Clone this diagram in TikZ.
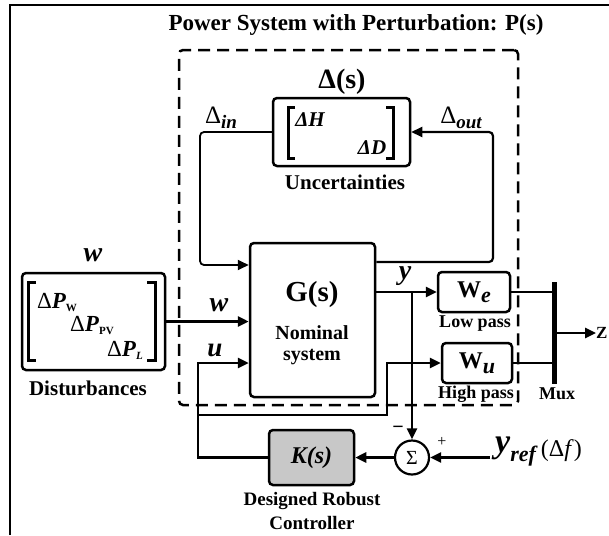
\documentclass[tikz,border=0pt]{standalone}
\usepackage{fontspec}
\setmainfont{Liberation Serif}
\usetikzlibrary{arrows.meta,calc}
\newcommand{\myfs}[1]{\fontsize{#1}{#1}\selectfont}
\definecolor{kgray}{RGB}{200,200,200}
\begin{document}
\begin{tikzpicture}[x=1pt,y=-1pt,
  box/.style={draw, line width=2.5pt, rounded corners=4pt, inner sep=0pt},
  conn/.style={line width=2.6pt},
  arr/.style={conn, -{Triangle[length=11pt,width=10pt]}},
  brk/.style={line width=3pt},
  txt/.style={inner sep=0pt},
  bl/.style={txt, font=\bfseries\myfs{19}},
]
\useasboundingbox (0,0) rectangle (609,535);
\draw[line width=2pt] (10,535) -- (10,5) -- (609,5);

% title and dashed plant box
\node[txt, font=\bfseries\myfs{23}] (title) at (356,25) {Power System with Perturbation: P(s)};
\node[draw, line width=2.5pt, dash pattern=on 12pt off 7pt, rounded corners=4pt,
      minimum width=339pt, minimum height=355pt, inner sep=0pt] (pbox) at (348.5,227.5) {};

% uncertainty block
\node[box, minimum width=137pt, minimum height=68pt] (delta) at (341.5,132) {};
\draw[brk] (295,107) -- (288,107) -- (288,158) -- (295,158);
\draw[brk] (386,107) -- (393,107) -- (393,158) -- (386,158);
\node[txt, font=\bfseries\itshape\myfs{21}] (dH) at (310,120) {ΔH};
\node[txt, font=\bfseries\itshape\myfs{21}] (dD) at (372,148) {ΔD};
\node[txt, font=\bfseries\myfs{28}] (dlab) at (342,82) {Δ(s)};
\node[bl, font=\bfseries\myfs{21}] (unc) at (345,182) {Uncertainties};
\node[txt] (din) at (221,118) {\myfs{25}Δ\raisebox{-5pt}{\bfseries\itshape\myfs{19}in}};
\node[txt] (dout) at (461,118) {\myfs{25}Δ\raisebox{-5pt}{\bfseries\itshape\myfs{19}out}};

% nominal system
\node[box, minimum width=125pt, minimum height=154pt] (G) at (312.5,320) {};
\node[txt, font=\bfseries\myfs{29}] (gs) at (312,295) {G(s)};
\node[bl, font=\bfseries\myfs{20}] (nom) at (312,333) {Nominal};
\node[bl, font=\bfseries\myfs{20}] (sys) at (312,357) {system};

% disturbances
\node[box, minimum width=143pt, minimum height=97pt] (dist) at (93.5,321.5) {};
\draw[brk] (36,282) -- (28,282) -- (28,360) -- (36,360);
\draw[brk] (147,282) -- (155,282) -- (155,360) -- (147,360);
\node[txt] (pw) at (57,302) {\myfs{23}Δ\textbf{\textit{P}}\raisebox{-3pt}{\bfseries\myfs{11}W}};
\node[txt] (ppv) at (92,325) {\myfs{23}Δ\textbf{\textit{P}}\raisebox{-3pt}{\bfseries\myfs{11}PV}};
\node[txt] (pl) at (125,350) {\myfs{23}Δ\textbf{\textit{P}}\raisebox{-3pt}{\bfseries\itshape\myfs{11}L}};
\node[txt, font=\bfseries\itshape\myfs{28}] (wtop) at (93,255) {w};
\node[bl, font=\bfseries\myfs{21}] (distlab) at (88,388) {Disturbances};

% weights
\node[box, minimum width=72pt, minimum height=40pt] (We) at (474,292) {\bfseries\myfs{24}W\raisebox{-5pt}{\itshape\myfs{22}e}};
\node[box, minimum width=70pt, minimum height=40pt] (Wu) at (477,363) {\bfseries\myfs{24}W\raisebox{-5pt}{\itshape\myfs{22}u}};
\node[bl, font=\bfseries\myfs{18}] (lp) at (475,324) {Low pass};
\node[bl, font=\bfseries\myfs{18}] (hp) at (476,394) {High pass};
\node[fill, minimum width=5pt, minimum height=102pt, inner sep=0pt] (mux) at (554,333) {};
\node[bl, font=\bfseries\myfs{18}] (muxlab) at (557,394) {Mux};
\node[txt, anchor=west, font=\bfseries\myfs{17}] (Z) at (596,333) {Z};

% controller loop
\node[box, fill=kgray, minimum width=85pt, minimum height=55pt, font=\bfseries\itshape\myfs{24}] (K) at (311.5,457.5) {K(s)};
\node[draw, circle, line width=2.2pt, minimum size=34pt, inner sep=0pt, font=\myfs{20}] (sum) at (412,457.5) {Σ};
\node[txt, anchor=west] (yref) at (495,452) {{\bfseries\itshape\myfs{34}y}\raisebox{-9pt}{\bfseries\itshape\myfs{22}ref}\hspace{5pt}\raisebox{-4pt}{\myfs{24}(Δ\textit{f})}};
\node[bl] (dr1) at (312,501) {Designed Robust};
\node[bl] (dr2) at (312,523) {Controller};

% signal labels
\node[txt, font=\bfseries\itshape\myfs{28}] (ylab) at (405,276) {y};
\node[txt, font=\bfseries\itshape\myfs{28}] (wlab) at (219,305) {w};
\node[txt, font=\bfseries\itshape\myfs{27}] (ulab) at (215,350) {u};
\node[txt, font=\bfseries\myfs{20}] (minus) at (398,430) {−};
\node[txt, font=\myfs{16}] (plus) at (442,442) {+};

% coordinates for bends
\coordinate (dinb) at (200,265);
\coordinate (doutb) at (493,262);
\coordinate (ub) at (198,363);
\coordinate (ubr) at (198,415);
\coordinate (ubr2) at (387,415);
\coordinate (yb) at (412,292);
\coordinate (yr) at (490,457.5);

% connectors
\draw[arr, line width=1.8pt, rounded corners=4pt] (delta.west) -| (dinb) -- (dinb -| G.west);
\draw[arr, line width=2.2pt, rounded corners=4pt] (G.east |- doutb) -- (doutb) |- (delta.east);
\draw[arr, line width=3.6pt] (dist.east) -- (dist.east -| G.west);
\draw[arr] (K.west) -| (ub) -- (ub -| G.west);
\draw[arr] (ubr) -- (ubr2) |- (Wu.west);
\draw[arr] (G.east |- We) -- (We.west);
\draw[arr] (yb) -- (sum.north);
\draw[arr] (yr) -- (sum.east);
\draw[arr] (sum.west) -- (K.east);
\draw[conn] (We.east) -- (We.east -| mux.center);
\draw[conn] (Wu.east) -- (Wu.east -| mux.center);
\draw[arr] (mux.east) -- (Z.west);
\end{tikzpicture}
\end{document}
